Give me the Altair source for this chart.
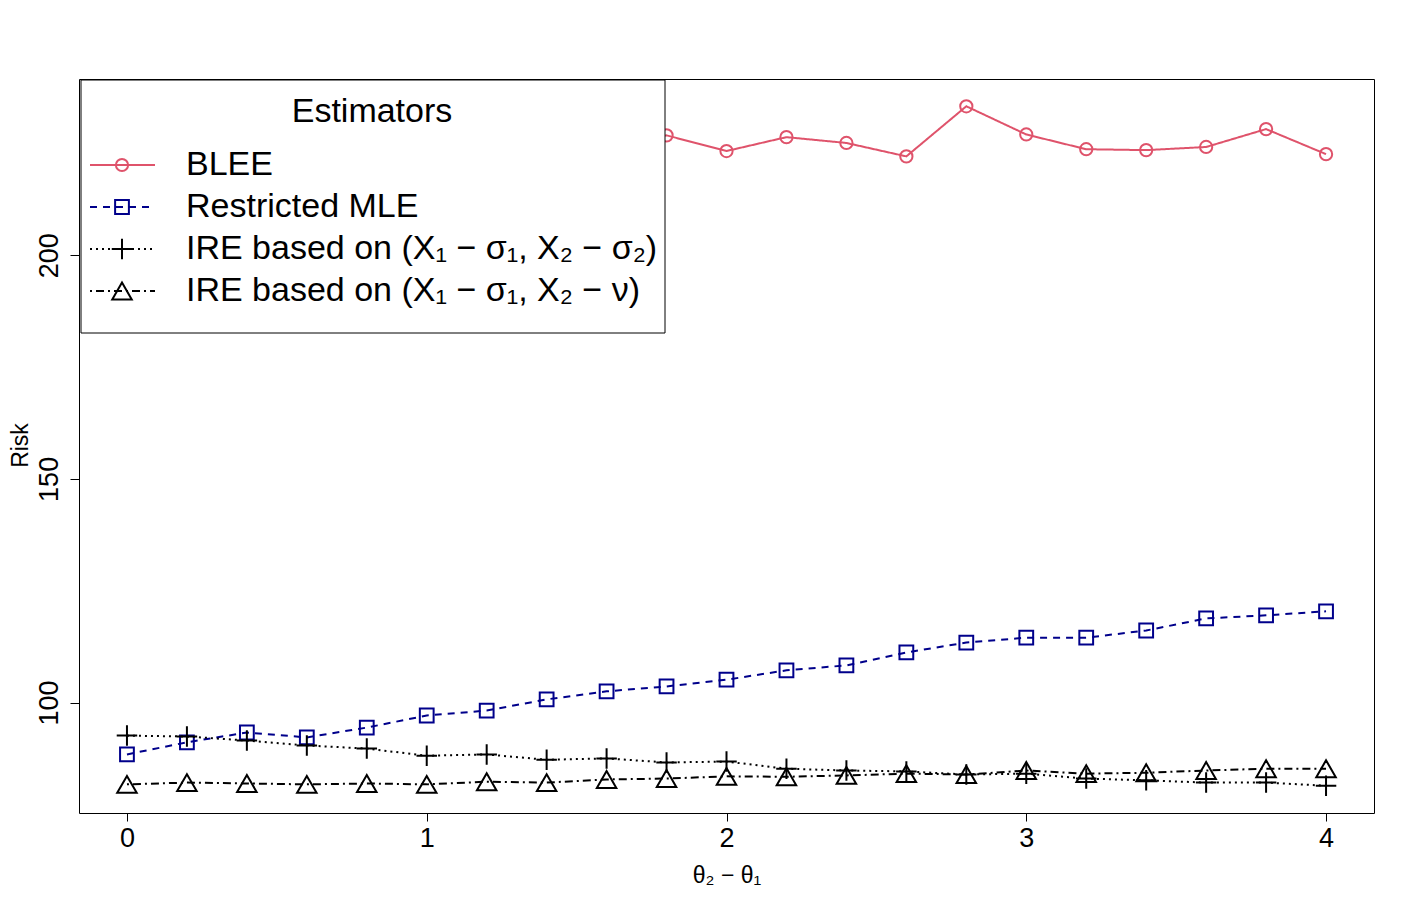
import altair as alt
import pandas as pd

FONT = "Liberation Sans"

theta_diff = [0.0, 0.2, 0.4, 0.6, 0.8, 1.0, 1.2, 1.4, 1.6, 1.8, 2.0,
              2.2, 2.4, 2.6, 2.8, 3.0, 3.2, 3.4, 3.6, 3.8, 4.0]

blee = [225.5, 224.0, 226.5, 223.8, 225.2, 227.0, 224.5, 225.8, 224.2, 226.8, 223.3,
        226.4, 225.1, 222.1, 233.3, 227.0, 223.7, 223.5, 224.2, 228.2, 222.6]
restricted_mle = [88.4, 91.1, 93.3, 92.2, 94.4, 97.1, 98.2, 100.7, 102.5, 103.6, 105.1,
                  107.2, 108.3, 111.2, 113.4, 114.5, 114.5, 116.1, 118.8, 119.5, 120.4]
ire_sigma = [92.6, 92.4, 91.5, 90.4, 89.7, 88.1, 88.4, 87.2, 87.5, 86.6, 86.8,
             85.2, 84.8, 84.6, 83.9, 84.1, 83.0, 82.6, 82.1, 82.1, 81.4]
ire_nu = [81.7, 82.1, 81.9, 81.7, 81.9, 81.7, 82.3, 82.1, 82.8, 83.0, 83.5,
          83.4, 83.7, 84.1, 83.9, 84.8, 84.1, 84.3, 84.8, 85.2, 85.2]

series_names = ["BLEE", "Restricted MLE",
                "IRE based on (X\u2081 \u2212 \u03c3\u2081, X\u2082 \u2212 \u03c3\u2082)",
                "IRE based on (X\u2081 \u2212 \u03c3\u2081, X\u2082 \u2212 \u03bd)"]
series_values = [blee, restricted_mle, ire_sigma, ire_nu]
series_colors = ["#DF536B", "#00008B", "black", "black"]
series_dash = [[1, 0], [7, 6], [2, 4], [2, 4, 8, 4]]
PLUS = "M-1,0L1,0M0,-1L0,1"
series_shapes = ["circle", "square", PLUS, "triangle-up"]
series_sizes = [150, 190, 420, 380]

x_ticks = [0, 1, 2, 3, 4]
y_ticks = [100, 150, 200]

W, H = 1295, 734

x_enc = alt.X("x:Q",
              scale=alt.Scale(domain=[-0.16, 4.16], nice=False, zero=False),
              axis=alt.Axis(values=x_ticks, grid=False, domain=False, tickSize=8,
                            tickColor="black", tickWidth=1, labelFontSize=27,
                            labelFont=FONT, labelColor="black", labelPadding=4,
                            title="\u03b8\u2082 \u2212 \u03b8\u2081", titleFont=FONT,
                            titleFontSize=23, titleFontWeight="normal", titleColor="black",
                            titleX=W / 2, titleY=62, titleBaseline="middle",
                            titleAlign="center", labelFlush=False))
y_enc = alt.Y("y:Q",
              scale=alt.Scale(domain=[75.3, 239.4], nice=False, zero=False),
              axis=alt.Axis(values=y_ticks, grid=False, domain=False, tickSize=9,
                            tickColor="black", tickWidth=1, labelFontSize=27,
                            labelFont=FONT, labelColor="black", labelAngle=270,
                            labelAlign="center", labelBaseline="alphabetic",
                            labelPadding=13, labelFlush=False,
                            title="Risk", titleFont=FONT, titleFontSize=23,
                            titleFontWeight="normal", titleColor="black",
                            titleAngle=270, titleX=-59, titleY=366,
                            titleAlign="center", titleBaseline="middle"))

layers = []
for name, vals, col, dash, shp, sz in zip(series_names, series_values, series_colors,
                                          series_dash, series_shapes, series_sizes):
    df = pd.DataFrame({"x": theta_diff, "y": vals})
    base = alt.Chart(df)
    layers.append(base.mark_line(color=col, strokeWidth=2, strokeDash=dash).encode(x=x_enc, y=y_enc))
    layers.append(base.mark_point(shape=shp, size=sz, filled=False, color=col, stroke=col,
                                  strokeWidth=2, opacity=1).encode(x=x_enc, y=y_enc))

# legend box
layers.append(alt.Chart().mark_rect(fill="white", stroke="black", strokeWidth=1).encode(
    x=alt.value(2), x2=alt.value(586), y=alt.value(1), y2=alt.value(254)))
layers.append(alt.Chart().mark_text(text="Estimators", font=FONT, fontSize=34,
                                    align="center", baseline="middle", color="black").encode(
    x=alt.value(293), y=alt.value(33)))
row_y = [86, 128, 170, 212]
for name, col, dash, shp, sz, ry in zip(series_names, series_colors, series_dash,
                                        series_shapes, series_sizes, row_y):
    layers.append(alt.Chart().mark_rule(color=col, strokeWidth=2, strokeDash=dash).encode(
        x=alt.value(11), x2=alt.value(76), y=alt.value(ry)))
    layers.append(alt.Chart().mark_point(shape=shp, size=sz, filled=False, color=col,
                                         stroke=col, strokeWidth=2, opacity=1).encode(
        x=alt.value(43), y=alt.value(ry)))
    layers.append(alt.Chart().mark_text(text=name, font=FONT, fontSize=34, align="left",
                                        baseline="middle", color="black").encode(
        x=alt.value(107), y=alt.value(ry)))

chart = alt.layer(*layers).properties(
    width=W, height=H,
    autosize=alt.AutoSizeParams(type="none"),
    padding={"left": 71, "top": 71, "right": 33, "bottom": 89},
    background="white",
).configure_view(stroke="black", strokeWidth=1)

chart.save("out.html", embed_options={"renderer": "svg", "actions": False})
